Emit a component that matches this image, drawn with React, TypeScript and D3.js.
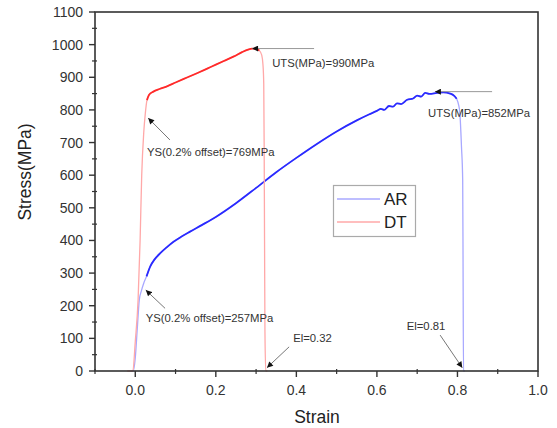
import React from "react";
import * as d3 from "d3";

// DT (red) curve
const dtStrain = [-0.02, -0.006, 0.0, 0.007, 0.012, 0.016, 0.021, 0.025, 0.029, 0.034, 0.045, 0.06, 0.08, 0.1, 0.13, 0.16, 0.19, 0.22, 0.245, 0.265, 0.28, 0.29, 0.3, 0.308, 0.314, 0.317, 0.319, 0.32, 0.321, 0.322, 0.324, 0.328];
const dtStress = [0, 0, 90, 218, 400, 600, 730, 790, 830, 846, 856, 864, 873, 884, 900, 916, 933, 950, 964, 977, 985, 988, 987, 982, 968, 940, 880, 700, 400, 120, 0, 0];

// AR (blue) curve
const arStrain = [-0.01, -0.005, 0.0, 0.005, 0.01, 0.015, 0.021, 0.028, 0.037, 0.048, 0.062, 0.078, 0.095, 0.115, 0.136, 0.165, 0.2, 0.25, 0.3, 0.35, 0.4, 0.45, 0.5, 0.55, 0.58, 0.6, 0.61, 0.618, 0.63, 0.64, 0.65, 0.66, 0.675, 0.69, 0.7, 0.71, 0.72, 0.73, 0.749, 0.765, 0.782, 0.792, 0.798, 0.803, 0.806, 0.81, 0.813, 0.814, 0.815, 0.818];
const arStress = [0, 0, 40, 130, 218, 245, 269, 290, 320, 342, 361, 379, 396, 412, 427, 447, 472, 514, 561, 609, 653, 695, 734, 768, 786, 797, 803, 800, 812, 810, 820, 818, 831, 835, 844, 841, 852, 849, 852, 854, 850, 843, 834, 815, 790, 687, 585, 300, 0, 0];

const yTicks = [0, 100, 200, 300, 400, 500, 600, 700, 800, 900, 1000, 1100];
const xTicks = [0.0, 0.2, 0.4, 0.6, 0.8, 1.0];

const series = [
  { name: "AR", strain: arStrain, stress: arStress, color: "#2a2aff", pale: "#a8a8ff", bold: [0.025, 0.8] },
  { name: "DT", strain: dtStrain, stress: dtStress, color: "#ff2a2a", pale: "#ffa8a8", bold: [0.026, 0.312] },
];

// annotations: text anchor point and arrow (tail -> head) in data units
const notes = [
  { text: "UTS(MPa)=990MPa", tx: 0.34, ty: 944, from: [0.444, 988], to: [0.29, 988], line: "#999" },
  { text: "UTS(MPa)=852MPa", tx: 0.727, ty: 790, from: [0.886, 856], to: [0.744, 856], line: "#999" },
  { text: "YS(0.2% offset)=769MPa", tx: 0.029, ty: 671, from: [0.086, 708], to: [0.032, 775], line: "#777" },
  { text: "YS(0.2% offset)=257MPa", tx: 0.026, ty: 163, from: [0.074, 192], to: [0.026, 248], line: "#777" },
  { text: "El=0.32", tx: 0.392, ty: 101, from: [0.382, 74], to: [0.327, 10], line: "#777" },
  { text: "El=0.81", tx: 0.674, ty: 138, from: [0.757, 110], to: [0.812, 10], line: "#777" },
];

const W = 557;
const H = 428;
const margin = { left: 95, right: 19, top: 12, bottom: 57 };

export default function App() {
  const x = d3.scaleLinear().domain([-0.1, 1.0]).range([margin.left, W - margin.right]);
  const y = d3.scaleLinear().domain([0, 1100]).range([H - margin.bottom, margin.top]);
  const x0 = x.range()[0];
  const x1 = x.range()[1];
  const y0 = y.range()[0];
  const y1 = y.range()[1];

  const line = d3
    .line<[number, number]>()
    .x((d) => x(d[0]))
    .y((d) => y(d[1]))
    .curve(d3.curveMonotoneX);

  const font = "'Liberation Sans', Arial, sans-serif";
  const yMinor = d3.range(50, 1100, 100);
  const xMinor = d3.range(-0.1, 1.0, 0.2).map((v) => +v.toFixed(2));

  return (
    <svg width={W} height={H} style={{ position: "absolute", left: 0, top: 0, background: "#fff" }} fontFamily={font}>
      <defs>
        <marker id="ah" viewBox="0 0 10 10" refX="10" refY="5" markerWidth="7" markerHeight="6" orient="auto" markerUnits="userSpaceOnUse">
          <path d="M0,0L10,5L0,10z" fill="#111" />
        </marker>
      </defs>

      {/* curves */}
      {series.map((s) => {
        const pts = s.strain.map((v, i) => [v, s.stress[i]] as [number, number]);
        const boldPts = pts.filter((p) => p[0] >= s.bold[0] && p[0] <= s.bold[1]);
        return (
          <g key={s.name}>
            <path d={line(pts) || ""} fill="none" stroke={s.pale} strokeWidth={1.3} />
            <path d={line(boldPts) || ""} fill="none" stroke={s.color} strokeWidth={1.8} strokeLinejoin="round" />
          </g>
        );
      })}

      {/* annotations */}
      {notes.map((n) => (
        <g key={n.text}>
          <line x1={x(n.from[0])} y1={y(n.from[1])} x2={x(n.to[0])} y2={y(n.to[1])} stroke={n.line} strokeWidth={1} markerEnd="url(#ah)" />
          <text x={x(n.tx)} y={y(n.ty)} dy="0.35em" fontSize={11.3} fill="#333">
            {n.text}
          </text>
        </g>
      ))}

      {/* frame */}
      <rect x={x0} y={y1} width={x1 - x0} height={y0 - y1} fill="none" stroke="#333" strokeWidth={1.6} />

      {/* y axis */}
      {yTicks.map((t) => (
        <g key={"y" + t}>
          <line x1={x0 - 6} x2={x0} y1={y(t)} y2={y(t)} stroke="#333" strokeWidth={1.4} />
          <text x={x0 - 12} y={y(t)} dy="0.36em" textAnchor="end" fontSize={14} fill="#333">
            {t}
          </text>
        </g>
      ))}
      {yMinor.map((t) => (
        <line key={"ym" + t} x1={x0 - 3} x2={x0 + 2} y1={y(t)} y2={y(t)} stroke="#333" strokeWidth={1.2} />
      ))}

      {/* x axis */}
      {xTicks.map((t) => (
        <g key={"x" + t}>
          <line x1={x(t)} x2={x(t)} y1={y0} y2={y0 + 6} stroke="#333" strokeWidth={1.4} />
          <text x={x(t)} y={y0 + 24} textAnchor="middle" fontSize={14} fill="#333">
            {t.toFixed(1)}
          </text>
        </g>
      ))}
      {xMinor.map((t) => (
        <line key={"xm" + t} x1={x(t)} x2={x(t)} y1={y0 - 2} y2={y0 + 3} stroke="#333" strokeWidth={1.2} />
      ))}

      {/* axis titles */}
      <text x={317} y={423} textAnchor="middle" fontSize={17.5} fill="#222">
        Strain
      </text>
      <text transform="translate(31,172) rotate(-90)" textAnchor="middle" fontSize={17.5} fill="#222">
        Stress(MPa)
      </text>

      {/* legend */}
      <rect x={333.5} y={185.5} width={82} height={51} fill="#fff" stroke="#aaa" strokeWidth={1.2} />
      {series.map((s, i) => (
        <g key={"lg" + s.name}>
          <line x1={337} x2={380} y1={199 + i * 23} y2={199 + i * 23} stroke={s.pale} strokeWidth={1.4} />
          <text x={384} y={199 + i * 23} dy="0.36em" fontSize={17} fill="#222">
            {s.name}
          </text>
        </g>
      ))}
    </svg>
  );
}
